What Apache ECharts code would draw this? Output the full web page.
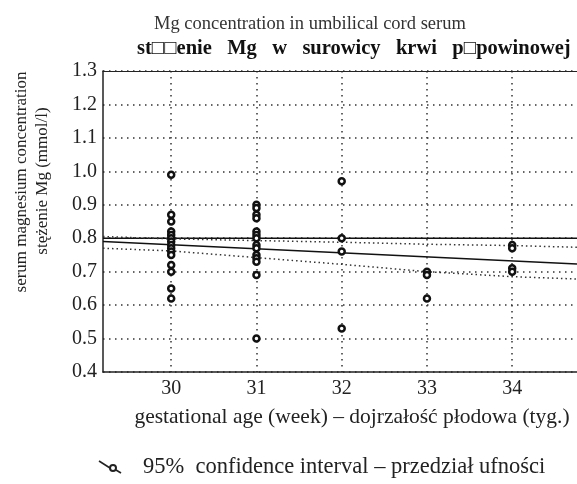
<!DOCTYPE html>
<html>
<head>
<meta charset="utf-8">
<script src="https://cdn.jsdelivr.net/npm/echarts@6/dist/echarts.min.js"></script>
<style>html,body{margin:0;padding:0;background:#fff}#c{width:577px;height:484px}</style>
</head>
<body>
<div id="c"></div>
<script>
// ---- data ----
const weeks = [30, 31, 32, 33, 34];
const mg30 = [0.99, 0.87, 0.85, 0.82, 0.81, 0.80, 0.79, 0.78, 0.77, 0.76, 0.75, 0.72, 0.70, 0.65, 0.62];
const mg31 = [0.90, 0.89, 0.87, 0.86, 0.82, 0.81, 0.80, 0.78, 0.77, 0.75, 0.74, 0.73, 0.69, 0.50];
const mg32 = [0.97, 0.80, 0.76, 0.53];
const mg33 = [0.70, 0.69, 0.62];
const mg34 = [0.78, 0.77, 0.71, 0.70];
const xRange = [29.2, 34.76];
const meanLevel = 0.80;
const regression = [0.790, 0.723];            // at xRange ends
const ciX = [29.2, 30, 31, 32, 33, 34, 34.76];
const ciUpper = [0.805, 0.798, 0.793, 0.788, 0.782, 0.778, 0.773];
const ciLower = [0.770, 0.762, 0.742, 0.722, 0.700, 0.685, 0.678];
const yTicks = [0.4, 0.5, 0.6, 0.7, 0.8, 0.9, 1.0, 1.1, 1.2, 1.3];

const groups = [mg30, mg31, mg32, mg33, mg34];
const points = [];
groups.forEach((g, i) => g.forEach(v => points.push([weeks[i], v])));

const FONT = 'Liberation Serif';
const chart = echarts.init(document.getElementById('c'), null, {renderer: 'canvas'});
chart.setOption({
  animation: false,
  backgroundColor: '#fff',
  title: [
    {text: 'Mg concentration in umbilical cord serum', left: 149, top: 10,
     textStyle: {fontFamily: FONT, fontSize: 18.5, fontWeight: 'normal', color: '#333'}},
    {text: 'st\u25A1\u25A1enie   Mg   w   surowicy   krwi   p\u25A1powinowej', left: 132, top: 33,
     textStyle: {fontFamily: FONT, fontSize: 20.5, fontWeight: 'bold', color: '#111'}}
  ],
  grid: {left: 103, top: 71, right: 0, bottom: 112, containLabel: false},
  xAxis: [{
    type: 'value', min: xRange[0], max: xRange[1],
    axisLine: {show: true, lineStyle: {color: '#222', width: 1.5}},
    axisTick: {show: false, customValues: weeks},
    axisLabel: {customValues: weeks, fontFamily: FONT, fontSize: 20, color: '#222', margin: 7},
    splitLine: {show: true, lineStyle: {type: [1.5, 4.5], color: '#333', width: 1.5}},
    name: 'gestational age (week) \u2013 dojrza\u0142o\u015B\u0107 p\u0142odowa (tyg.)',
    nameLocation: 'middle', nameGap: 34,
    nameTextStyle: {fontFamily: FONT, fontSize: 21.5, color: '#222', padding: [0, 0, 0, 24]}
  }, {
    type: 'value', position: 'top', min: xRange[0], max: xRange[1],
    axisLine: {show: true, onZero: false, lineStyle: {color: '#222', width: 1.2}},
    axisTick: {show: false}, axisLabel: {show: false}, splitLine: {show: false}
  }],
  yAxis: {
    type: 'value', min: yTicks[0], max: yTicks[yTicks.length - 1], interval: 0.1,
    axisLine: {show: true, lineStyle: {color: '#222', width: 1.5}},
    axisTick: {show: false},
    axisLabel: {fontFamily: FONT, fontSize: 20, color: '#222', margin: 6,
      formatter: v => v.toFixed(1)},
    splitLine: {show: true, lineStyle: {type: [1.5, 4.5], color: '#333', width: 1.5}}
  },
  graphic: [
    {type: 'text', x: 22, y: 182, rotation: Math.PI / 2,
     style: {text: 'serum magnesium concentration', fontFamily: FONT, fontSize: 17, fill: '#222',
             align: 'center', verticalAlign: 'middle'}},
    {type: 'text', x: 43, y: 181, rotation: Math.PI / 2,
     style: {text: 'st\u0119\u017Cenie Mg (mmol/l)', fontFamily: FONT, fontSize: 17, fill: '#222',
             align: 'center', verticalAlign: 'middle'}},
    {type: 'polyline', shape: {points: [[99, 461], [110, 468]]},
     style: {stroke: '#222', lineWidth: 1.6, fill: null}},
    {type: 'circle', shape: {cx: 113, cy: 468, r: 3}, style: {stroke: '#222', lineWidth: 2, fill: '#fff'}},
    {type: 'polyline', shape: {points: [[116, 470], [121, 473]]},
     style: {stroke: '#222', lineWidth: 1.6, fill: null}},
    {type: 'text', x: 143, y: 467,
     style: {text: '95%  confidence interval \u2013 przedzia\u0142 ufno\u015Bci', fontFamily: FONT, fontSize: 22.5,
             fill: '#222', align: 'left', verticalAlign: 'middle'}}
  ],
  series: [
    {type: 'line', data: [[xRange[0], meanLevel], [xRange[1], meanLevel]], symbol: 'none',
     lineStyle: {color: '#111', width: 1.4}, z: 3},
    {type: 'line', data: [[xRange[0], regression[0]], [xRange[1], regression[1]]], symbol: 'none',
     lineStyle: {color: '#111', width: 1.4}, z: 3},
    {type: 'line', data: ciX.map((x, i) => [x, ciUpper[i]]), symbol: 'none',
     lineStyle: {color: '#333', width: 1.5, type: [1.5, 3]}, z: 3},
    {type: 'line', data: ciX.map((x, i) => [x, ciLower[i]]), symbol: 'none',
     lineStyle: {color: '#333', width: 1.5, type: [1.5, 3]}, z: 3},
    {type: 'scatter', data: points, symbol: 'circle', symbolSize: 6,
     itemStyle: {color: '#fff', borderColor: '#111', borderWidth: 2.5, opacity: 1}, z: 5}
  ]
});
</script>
</body>
</html>
